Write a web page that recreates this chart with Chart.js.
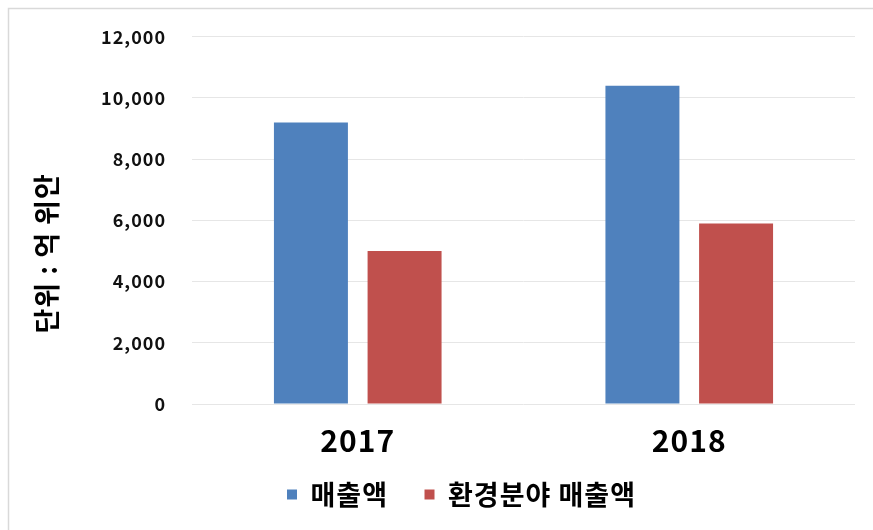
<!DOCTYPE html>
<html>
<head>
<meta charset="utf-8">
<script src="https://cdn.jsdelivr.net/npm/chart.js@4"></script>
<style>
  html, body { margin: 0; padding: 0; background: #fff; }
  #wrap { width: 873px; height: 530px; }
</style>
</head>
<body>
<div id="wrap"><canvas id="salesChart" width="873" height="530"></canvas></div>
<script>
// Data
const years = ['2017', '2018'];
const salesTotal = [9200, 10400];
const salesEnv = [5000, 5900];
const seriesNames = ['매출액', '환경분야 매출액'];
const yMax = 12000;
const yStep = 2000;
const yTitle = '단위 : 억 위안';

const FONT = '"Noto Sans CJK KR", "Noto Sans", sans-serif';

// light frame like the original sheet chart (only top/left edge is visible)
// + a little letter spacing so the text is as wide as the original font
const framePlugin = {
    id: 'frame',
    beforeUpdate(chart) { chart.ctx.letterSpacing = '1px'; },
    beforeLayout(chart) { chart.ctx.letterSpacing = '1px'; },
    afterLayout(chart) {
        // original legend is centred a little right of the canvas middle
        chart.legend.left += 29;
        chart.legend.right += 29;
    },
    beforeDraw(chart) {
        const ctx = chart.ctx;
        ctx.letterSpacing = '1px';
        ctx.save();
        ctx.fillStyle = '#fff';
        ctx.fillRect(0, 0, chart.width, chart.height);
        ctx.strokeStyle = '#d9d9d9';
        ctx.lineWidth = 1.5;
        ctx.strokeRect(8.5, 8.5, chart.width + 20, chart.height + 20);
        ctx.restore();
    }
};

// y axis unit label, sits a bit lower than the axis middle like in the original
const unitTitlePlugin = {
    id: 'unitTitle',
    afterDraw(chart) {
        const ctx = chart.ctx;
        const area = chart.chartArea;
        ctx.save();
        ctx.translate(47, (area.top + area.bottom) / 2 + 33);
        ctx.rotate(-Math.PI / 2);
        ctx.font = 'bold 27px ' + FONT;
        ctx.fillStyle = '#000';
        ctx.textAlign = 'center';
        ctx.textBaseline = 'middle';
        ctx.fillText(yTitle, 0, 0);
        ctx.restore();
    }
};

const ctx = document.getElementById('salesChart').getContext('2d');

new Chart(ctx, {
    type: 'bar',
    data: {
        labels: years,
        datasets: [{
            label: seriesNames[0],
            data: salesTotal,
            backgroundColor: '#4f81bd',
            borderWidth: 0
        }, {
            label: seriesNames[1],
            data: salesEnv,
            backgroundColor: '#c0504d',
            borderWidth: 0
        }]
    },
    options: {
        responsive: false,
        animation: false,
        devicePixelRatio: 1,
        categoryPercentage: 0.565,
        barPercentage: 0.79,
        layout: {
            padding: { left: 10, right: 18, top: 24, bottom: 12 }
        },
        scales: {
            x: {
                afterFit(scale) { scale.height = 55; },
                grid: { display: false, drawTicks: false },
                border: { display: false },
                ticks: {
                    color: '#000',
                    padding: 19,
                    font: { family: FONT, size: 30, weight: 'bold' }
                }
            },
            y: {
                min: 0,
                max: yMax,
                afterFit(scale) { scale.width = 182; },
                grid: { color: '#e6e6e6', lineWidth: 1, drawTicks: false },
                border: { display: false },
                ticks: {
                    stepSize: yStep,
                    color: '#111',
                    padding: 26,
                    font: { family: FONT, size: 18, weight: 'bold' },
                    callback: v => v.toLocaleString('en-US')
                }
            }
        },
        plugins: {
            legend: {
                position: 'bottom',
                labels: {
                    color: '#000',
                    boxWidth: 10,
                    boxHeight: 10,
                    padding: 22,
                    font: { family: FONT, size: 27, weight: 'bold' },
                    // wider gap between the two legend entries
                    generateLabels(chart) {
                        const items = Chart.defaults.plugins.legend.labels.generateLabels(chart);
                        items.forEach((it, i) => {
                            if (i < items.length - 1) it.text += '\u2002';
                        });
                        return items;
                    }
                }
            },
            tooltip: { enabled: false }
        }
    },
    plugins: [framePlugin, unitTitlePlugin]
});
</script>
</body>
</html>
